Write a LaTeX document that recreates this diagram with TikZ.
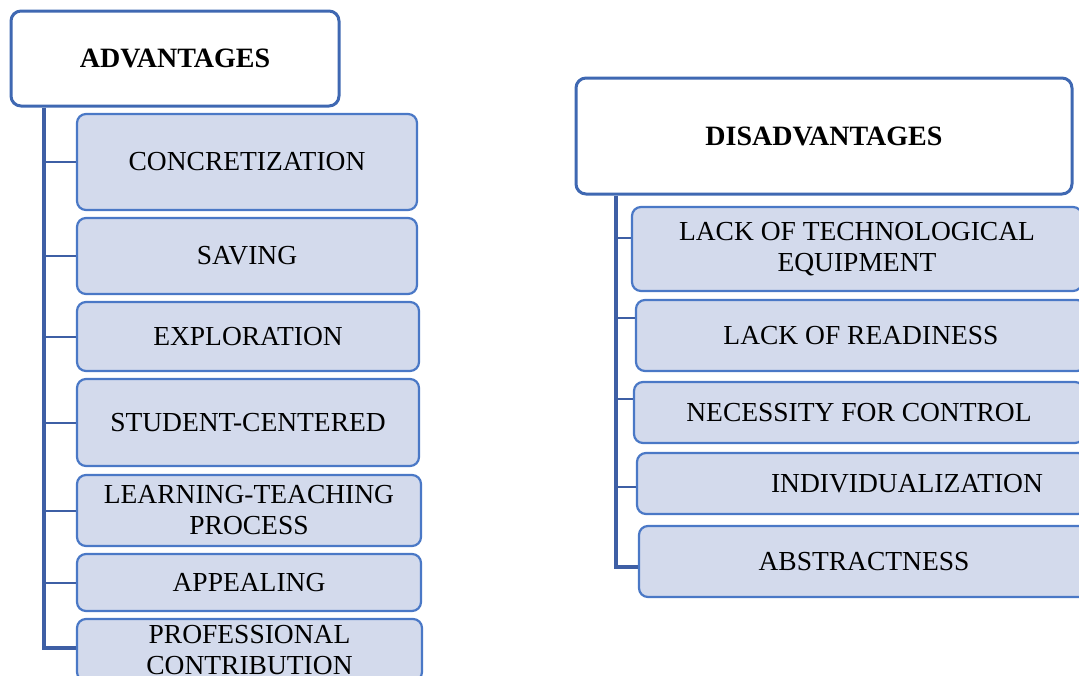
\documentclass[tikz,border=0pt]{standalone}
\usepackage{fontspec}
\setmainfont{Liberation Serif}

\definecolor{HeadLine}{HTML}{3F68B2}
\definecolor{BoxLine}{HTML}{4A78C6}
\definecolor{BoxFill}{HTML}{D3DAEC}
\definecolor{Trunk}{HTML}{3E5FA5}

\begin{document}
\begin{tikzpicture}[x=1pt, y=-1pt,
  headbox/.style={draw=HeadLine, line width=3pt, fill=white, rounded corners=10pt,
    font=\fontsize{28}{31}\selectfont\bfseries, align=center, inner sep=0pt},
  itembox/.style={draw=BoxLine, line width=2.2pt, fill=BoxFill, rounded corners=9pt,
    font=\fontsize{27.5}{31}\selectfont, align=center, inner sep=0pt}]

 \useasboundingbox (0,0) rectangle (1079,675) ;
 \clip (0,0) rectangle (1079,675) ;

%%%%%%%%%% Advantages %%%%%%%%%%

 \node [headbox, minimum width=328pt, minimum height=95pt] (a0) at (175,58.5) {ADVANTAGES} ;

 \node [itembox, minimum width=340pt, minimum height=96pt] (a1) at (247,162) {CONCRETIZATION} ;
 \node [itembox, minimum width=340pt, minimum height=76pt] (a2) at (247,256) {SAVING} ;
 \node [itembox, minimum width=342pt, minimum height=69pt] (a3) at (248,336.5) {EXPLORATION} ;
 \node [itembox, minimum width=342pt, minimum height=87pt] (a4) at (248,422.5) {STUDENT-CENTERED} ;
 \node [itembox, minimum width=344pt, minimum height=71pt] (a5) at (249,510.5) {LEARNING-TEACHING\\PROCESS} ;
 \node [itembox, minimum width=344pt, minimum height=57pt] (a6) at (249,582.5) {APPEALING} ;
 \node [itembox, minimum width=345pt, minimum height=62pt] (a7) at (249.5,650) {PROFESSIONAL\\CONTRIBUTION} ;

 \coordinate (at) at (44,0) ;
 \coordinate (aj7) at (44,648) ;

 % Trunk
 \draw [line width=3.5pt, color=Trunk] (a0.south -| at) -- (aj7) -- (aj7 -| a7.west) ;
 \draw [line width=2pt, color=Trunk] (a1.west -| at) -- (a1.west) ;
 \draw [line width=2pt, color=Trunk] (a2.west -| at) -- (a2.west) ;
 \draw [line width=2pt, color=Trunk] (a3.west -| at) -- (a3.west) ;
 \draw [line width=2pt, color=Trunk] (a4.west -| at) -- (a4.west) ;
 \draw [line width=2pt, color=Trunk] (a5.west -| at) -- (a5.west) ;
 \draw [line width=2pt, color=Trunk] (a6.west -| at) -- (a6.west) ;

%%%%%%%%%% Disadvantages %%%%%%%%%%

 \node [headbox, minimum width=496pt, minimum height=116pt] (d0) at (824,136) {DISADVANTAGES} ;

 \node [itembox, minimum width=450pt, minimum height=84pt] (d1) at (857,249) {LACK OF TECHNOLOGICAL\\EQUIPMENT} ;
 \node [itembox, minimum width=450pt, minimum height=71pt] (d2) at (861,335.5) {LACK OF READINESS} ;
 \node [itembox, minimum width=450pt, minimum height=61pt] (d3) at (859,412.5) {NECESSITY FOR CONTROL} ;
 \node [itembox, minimum width=450pt, minimum height=61pt] (d4) at (862,483.5) {\hspace*{90pt}INDIVIDUALIZATION} ;
 \node [itembox, minimum width=450pt, minimum height=71pt] (d5) at (864,561.5) {ABSTRACTNESS} ;

 \coordinate (dt) at (616,0) ;
 \coordinate (dj1) at (616,238) ;
 \coordinate (dj2) at (616,318) ;
 \coordinate (dj3) at (616,399) ;
 \coordinate (dj4) at (616,487) ;
 \coordinate (dj5) at (616,567) ;

 % Trunk
 \draw [line width=3.5pt, color=Trunk] (d0.south -| dt) -- (dj5) -- (dj5 -| d5.west) ;
 \draw [line width=2pt, color=Trunk] (dj1) -- (dj1 -| d1.west) ;
 \draw [line width=2pt, color=Trunk] (dj2) -- (dj2 -| d2.west) ;
 \draw [line width=2pt, color=Trunk] (dj3) -- (dj3 -| d3.west) ;
 \draw [line width=2pt, color=Trunk] (dj4) -- (dj4 -| d4.west) ;

\end{tikzpicture}
\end{document}
